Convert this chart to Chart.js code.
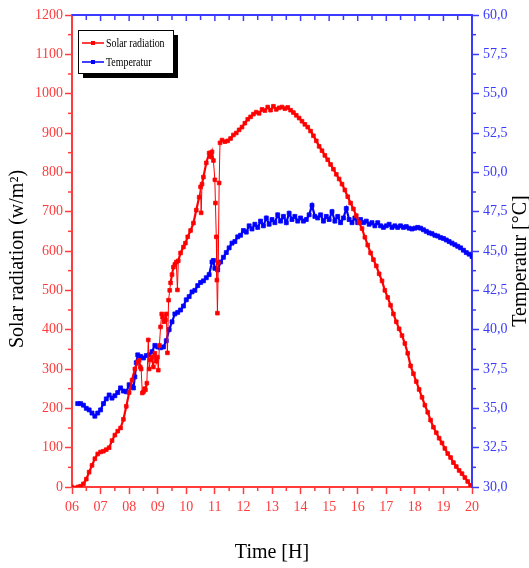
<!DOCTYPE html>
<html>
<head>
<meta charset="utf-8">
<script src="https://cdn.jsdelivr.net/npm/chart.js@4/dist/chart.umd.min.js"></script>
<style>
    html, body { margin: 0; padding: 0; background: #fff; }
    #wrap { width: 529px; height: 568px; }
</style>
</head>
<body>
<div id="wrap"><canvas id="solar-chart"></canvas></div>
<script>
// solar radiation (hour of day, W/m2)
const radTime = [6.0, 6.2, 6.3, 6.4, 6.5, 6.6, 6.7, 6.8, 6.9, 7.0, 7.1, 7.2, 7.3, 7.4, 7.5, 7.6, 7.7, 7.8, 7.9, 8.0,
    8.1, 8.2, 8.3, 8.35, 8.39, 8.42, 8.46, 8.5, 8.54, 8.57, 8.62, 8.67, 8.7, 8.74, 8.8, 8.85, 8.9, 8.95, 8.99, 9.02,
    9.06, 9.1, 9.14, 9.17, 9.22, 9.27, 9.3, 9.34, 9.38, 9.42, 9.45, 9.5, 9.55, 9.6, 9.65, 9.69, 9.72, 9.8, 9.9, 9.97,
    10.05, 10.15, 10.25, 10.35, 10.45, 10.5, 10.52, 10.55, 10.6, 10.7, 10.8, 10.85, 10.9, 10.95, 11.0, 11.02, 11.05, 11.07, 11.09, 11.12,
    11.15, 11.18, 11.25, 11.35, 11.45, 11.55, 11.65, 11.75, 11.85, 11.95, 12.05, 12.15, 12.25, 12.35, 12.45, 12.55, 12.65, 12.75, 12.85, 12.95,
    13.05, 13.15, 13.25, 13.35, 13.45, 13.55, 13.65, 13.75, 13.85, 13.95, 14.05, 14.15, 14.25, 14.35, 14.45, 14.55, 14.65, 14.75, 14.85, 14.95,
    15.05, 15.15, 15.25, 15.35, 15.45, 15.55, 15.65, 15.75, 15.85, 15.95, 16.05, 16.15, 16.25, 16.35, 16.45, 16.55, 16.65, 16.75, 16.85, 16.95,
    17.05, 17.15, 17.25, 17.35, 17.45, 17.55, 17.65, 17.75, 17.85, 17.95, 18.05, 18.15, 18.25, 18.35, 18.45, 18.55, 18.65, 18.75, 18.85, 18.95,
    19.05, 19.15, 19.25, 19.35, 19.45, 19.55, 19.65, 19.75, 19.85, 19.95, 20.0]
const radValues = [0, 0, 2, 8, 20, 38, 55, 72, 84, 89, 91, 95, 100, 118, 132, 142, 150, 172, 205, 240,
    272, 300, 318, 322, 305, 300, 239, 242, 250, 247, 264, 374, 300, 323, 330, 305, 340, 320, 330, 297,
    360, 407, 440, 432, 420, 425, 440, 341, 475, 500, 519, 540, 559, 566, 572, 501, 575, 595, 610, 620,
    636, 652, 671, 704, 737, 763, 697, 770, 788, 824, 849, 840, 852, 830, 781, 722, 636, 526, 442, 570,
    773, 875, 882, 878, 880, 886, 895, 900, 908, 915, 925, 935, 941, 948, 953, 950, 960, 957, 966, 958,
    968, 960, 964, 966, 962, 965, 958, 952, 945, 938, 930, 922, 915, 905, 893, 880, 866, 855, 843, 832,
    820, 808, 795, 783, 770, 755, 738, 722, 707, 690, 672, 657, 635, 615, 595, 578, 562, 542, 524, 500,
    482, 462, 440, 420, 402, 385, 365, 340, 308, 288, 268, 248, 228, 208, 190, 170, 152, 138, 124, 112,
    98, 85, 75, 62, 52, 42, 34, 24, 14, 4, 0]

// cell temperature (hour of day, degC)
const tempTime = [6.2, 6.3, 6.4, 6.5, 6.6, 6.7, 6.8, 6.9, 7.0, 7.1, 7.2, 7.3, 7.4, 7.5, 7.6, 7.7, 7.8, 7.9, 8.0, 8.1,
    8.15, 8.2, 8.25, 8.3, 8.4, 8.5, 8.6, 8.7, 8.8, 8.9, 9.0, 9.1, 9.2, 9.3, 9.4, 9.5, 9.6, 9.7, 9.8, 9.9,
    10.0, 10.1, 10.2, 10.3, 10.4, 10.5, 10.6, 10.7, 10.8, 10.9, 10.95, 11.0, 11.1, 11.2, 11.3, 11.4, 11.5, 11.6, 11.7, 11.8,
    11.9, 12.0, 12.1, 12.2, 12.3, 12.4, 12.5, 12.6, 12.7, 12.8, 12.9, 13.0, 13.1, 13.2, 13.3, 13.4, 13.5, 13.6, 13.7, 13.8,
    13.9, 14.0, 14.1, 14.2, 14.3, 14.4, 14.5, 14.6, 14.7, 14.8, 14.9, 15.0, 15.1, 15.2, 15.3, 15.4, 15.5, 15.6, 15.7, 15.8,
    15.9, 16.0, 16.1, 16.2, 16.3, 16.4, 16.5, 16.6, 16.7, 16.8, 16.9, 17.0, 17.1, 17.2, 17.3, 17.4, 17.5, 17.6, 17.7, 17.8,
    17.9, 18.0, 18.1, 18.2, 18.3, 18.4, 18.5, 18.6, 18.7, 18.8, 18.9, 19.0, 19.1, 19.2, 19.3, 19.4, 19.5, 19.6, 19.7, 19.8,
    19.9, 20.0]
const tempValues = [35.3, 35.3, 35.2, 35.0, 34.9, 34.7, 34.5, 34.7, 34.9, 35.3, 35.6, 35.85, 35.65, 35.8, 36.0, 36.3, 36.1, 36.05, 36.5, 36.4,
    36.3, 37.0, 37.9, 38.4, 38.3, 38.2, 38.35, 38.4, 38.6, 39.0, 38.9, 38.85, 38.9, 39.3, 40.0, 40.5, 41.0, 41.1, 41.25, 41.5,
    41.9, 42.1, 42.4, 42.5, 42.8, 43.0, 43.1, 43.3, 43.5, 44.3, 44.4, 43.9, 43.8, 44.3, 44.6, 44.9, 45.2, 45.5, 45.6, 45.9,
    46.0, 46.3, 46.2, 46.6, 46.4, 46.7, 46.5, 46.9, 46.6, 47.1, 46.7, 47.0, 46.8, 47.3, 46.9, 47.2, 46.8, 47.4, 47.0, 47.2,
    46.9, 47.1, 46.9, 47.0, 47.3, 47.9, 47.2, 47.1, 47.3, 46.9, 47.2, 47.0, 47.5, 46.9, 47.2, 46.8, 47.1, 47.7, 47.0, 46.8,
    47.1, 46.8, 47.0, 46.8, 46.9, 46.7, 46.8, 46.6, 46.8, 46.6, 46.5, 46.6, 46.7, 46.5, 46.6, 46.5, 46.6, 46.5, 46.55, 46.45,
    46.4, 46.45, 46.5, 46.45, 46.35, 46.25, 46.15, 46.1, 46.0, 45.95, 45.85, 45.8, 45.7, 45.6, 45.5, 45.4, 45.3, 45.2, 45.05, 44.9,
    44.8, 44.65]

const seriesLabels = ['Solar radiation', 'Temperatur']
const seriesColors = ['#ff0000', '#0000ff']

const serif = "'Liberation Serif', 'Times New Roman', serif"
const redAxis = '#ff3b3b'
const blueAxis = '#3b3bff'

const radPoints = radTime.map((t, i) => ({x: t, y: radValues[i]}))
const tempPoints = tempTime.map((t, i) => ({x: t, y: tempValues[i]}))

// steep jumps were drawn as thin connecting lines in the original plot
const segmentWidth = (ctx) => {
    const dx = Math.abs(ctx.p1.x - ctx.p0.x)
    const dy = Math.abs(ctx.p1.y - ctx.p0.y)
    return dy > 7 * dx ? 1 : 2.2
}

function tick(ctx, x1, y1, x2, y2) {
    ctx.beginPath()
    ctx.moveTo(x1, y1)
    ctx.lineTo(x2, y2)
    ctx.stroke()
}

// extra frame pieces: minor ticks, top axis, titles and boxed legend
const frameDecor = {
    id: 'frameDecor',
    afterDraw(chart) {
        const {ctx, chartArea: {left, right, top, bottom}, scales: {x, y, y1}} = chart
        ctx.save()

        // top axis, ticks pointing inside
        ctx.strokeStyle = blueAxis
        ctx.lineWidth = 2
        tick(ctx, left, top, right + 1, top)
        ctx.lineWidth = 1.5
        for (let h = 6.5; h < 20; h += 0.5) {
            const px = x.getPixelForValue(h)
            tick(ctx, px, top, px, top + (h % 1 === 0 ? 6 : 5))
        }
        // right minor ticks
        for (let v = 31.25; v < 60; v += 2.5) {
            const py = y1.getPixelForValue(v)
            tick(ctx, right, py, right + 4, py)
        }

        ctx.strokeStyle = redAxis
        // bottom minor ticks
        for (let h = 6.5; h < 20; h += 1) {
            const px = x.getPixelForValue(h)
            tick(ctx, px, bottom, px, bottom + 4)
        }
        // left minor ticks
        for (let v = 50; v < 1200; v += 100) {
            const py = y.getPixelForValue(v)
            tick(ctx, left, py, left - 4, py)
        }

        // axis titles
        ctx.fillStyle = '#000'
        ctx.font = '20px ' + serif
        ctx.textAlign = 'center'
        ctx.textBaseline = 'middle'
        ctx.fillText('Time [H]', (left + right) / 2, 553)

        ctx.save()
        ctx.translate(18, (top + bottom) / 2 + 8)
        ctx.rotate(-Math.PI / 2)
        ctx.fillText('Solar radiation (w/m²)', 0, 0)
        ctx.restore()

        ctx.save()
        ctx.translate(521, (top + bottom) / 2 + 10)
        ctx.rotate(-Math.PI / 2)
        ctx.fillText('Temperatur [°C]', 0, 0)
        ctx.restore()

        // legend box with drop shadow
        const bx = 78, by = 30, bw = 95, bh = 43
        ctx.fillStyle = '#000'
        ctx.fillRect(bx + 5, by + 5, bw, bh)
        ctx.fillStyle = '#fff'
        ctx.fillRect(bx, by, bw, bh)
        ctx.strokeStyle = '#000'
        ctx.lineWidth = 1
        ctx.strokeRect(bx + 0.5, by + 0.5, bw, bh)

        ctx.font = '11px ' + serif
        ctx.textAlign = 'left'
        seriesLabels.forEach((label, i) => {
            const ly = by + 13 + i * 19
            ctx.strokeStyle = seriesColors[i]
            ctx.fillStyle = seriesColors[i]
            ctx.lineWidth = 1.5
            tick(ctx, bx + 4, ly, bx + 26, ly)
            ctx.fillRect(bx + 13, ly - 2, 4, 4)
            ctx.fillStyle = '#000'
            ctx.save()
            ctx.translate(bx + 28, ly + 1)
            ctx.scale(0.9, 1.1)
            ctx.fillText(label, 0, 0)
            ctx.restore()
        })
        ctx.restore()
    }
}

const solarConfig = {
    type: 'line',
    data: {
        datasets: [{
            label: seriesLabels[0],
            data: radPoints,
            yAxisID: 'y',
            borderColor: seriesColors[0],
            backgroundColor: seriesColors[0],
            borderWidth: 2.2,
            segment: {borderWidth: segmentWidth},
            pointStyle: 'rect',
            pointRadius: 2.6,
            pointBorderWidth: 0.8,
            tension: 0
        }, {
            label: seriesLabels[1],
            data: tempPoints,
            yAxisID: 'y1',
            borderColor: seriesColors[1],
            backgroundColor: seriesColors[1],
            borderWidth: 2.2,
            pointStyle: 'rect',
            pointRadius: 2.8,
            pointBorderWidth: 0.8,
            tension: 0
        }]
    },
    options: {
        responsive: true,
        maintainAspectRatio: false,
        animation: false,
        devicePixelRatio: 1,
        layout: {padding: {top: 15, left: 0, right: 0, bottom: 0}},
        plugins: {
            legend: {display: false},
            tooltip: {enabled: false}
        },
        scales: {
            x: {
                type: 'linear',
                position: 'bottom',
                min: 6,
                max: 20,
                afterFit: (scale) => { scale.height = 81 },
                ticks: {
                    stepSize: 1,
                    maxRotation: 0,
                    padding: 5,
                    color: redAxis,
                    font: {family: serif, size: 14},
                    callback: (v) => String(v).padStart(2, '0')
                },
                grid: {drawOnChartArea: false, tickLength: 7, tickWidth: 1.5, color: redAxis},
                border: {color: redAxis, width: 2}
            },
            y: {
                position: 'left',
                min: 0,
                max: 1200,
                afterFit: (scale) => { scale.width = 72 },
                ticks: {
                    stepSize: 100,
                    padding: 2,
                    color: redAxis,
                    font: {family: serif, size: 14},
                    callback: (v) => String(v)
                },
                grid: {drawOnChartArea: false, tickLength: 7, tickWidth: 1.5, color: redAxis},
                border: {color: redAxis, width: 2}
            },
            y1: {
                position: 'right',
                min: 30,
                max: 60,
                afterFit: (scale) => { scale.width = 57 },
                ticks: {
                    stepSize: 2.5,
                    padding: 4,
                    color: blueAxis,
                    font: {family: serif, size: 14},
                    callback: (v) => v.toFixed(1).replace('.', ',')
                },
                grid: {drawOnChartArea: false, tickLength: 7, tickWidth: 1.5, color: blueAxis},
                border: {color: blueAxis, width: 2}
            }
        }
    },
    plugins: [frameDecor]
}

const solarChart = new Chart(
    document.getElementById('solar-chart'),
    solarConfig
)
</script>
</body>
</html>
